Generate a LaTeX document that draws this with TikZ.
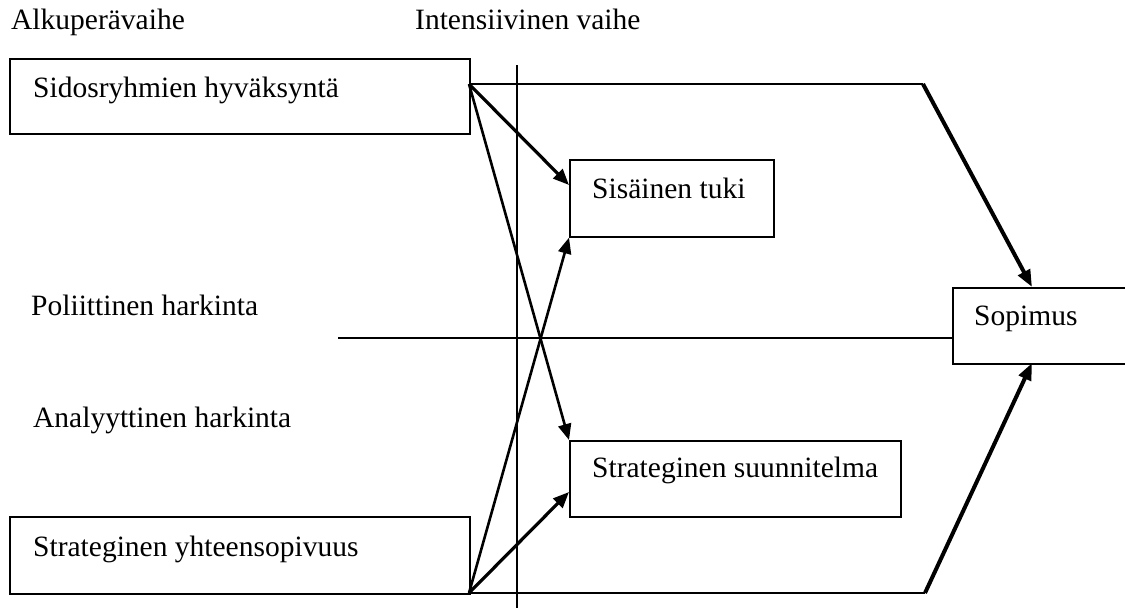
\documentclass[tikz,border=0pt]{standalone}
\usepackage{fontspec}
\setmainfont{Liberation Serif}
\usetikzlibrary{arrows.meta,calc}
\begin{document}
\begin{tikzpicture}[x=1pt,y=-1pt,
  box/.style={draw, line width=1.6pt, anchor=north west, inner sep=0pt},
  lbl/.style={anchor=base west, inner sep=0pt, font=\fontsize{29.5}{34}\selectfont},
  thinline/.style={line width=1.6pt},
  arrA/.style={line width=2.6pt, -{Triangle[length=16pt,width=13pt]}},
  arrB/.style={line width=3.2pt, -{Triangle[length=16pt,width=13pt]}},
  arrC/.style={line width=4pt, -{Triangle[length=17pt,width=13pt]}}]
\useasboundingbox (0,0) rectangle (1125,608);
\fill[white] (0,0) rectangle (1125,608);

% boxes
\node[box, minimum width=460pt, minimum height=75pt] (b1) at (9,58) {};
\node[box, minimum width=204pt, minimum height=77pt] (b2) at (569,159) {};
\node[box, minimum width=331pt, minimum height=76pt] (b3) at (569,440) {};
\node[box, minimum width=460pt, minimum height=77pt] (b4) at (9,516) {};
\node[box, minimum width=180pt, minimum height=76pt] (b5) at (952,287) {};

% texts
\node[lbl] (t0) at (11,29) {Alkuperävaihe};
\node[lbl] (t00) at (415,29) {Intensiivinen vaihe};
\node[lbl] (t1) at (33,97) {Sidosryhmien hyväksyntä};
\node[lbl] (t2) at (592,198) {Sisäinen tuki};
\node[lbl] (t3) at (592,477) {Strateginen suunnitelma};
\node[lbl] (t4) at (33,556) {Strateginen yhteensopivuus};
\node[lbl] (t5) at (974,325) {Sopimus};
\node[lbl] (tp) at (31,315) {Poliittinen harkinta};
\node[lbl] (ta) at (33,427) {Analyyttinen harkinta};

% coordinates
\coordinate (o1) at (469,84);
\coordinate (o4) at (469,593);
\coordinate (k1) at (923,84);
\coordinate (k4) at (925,593);
\coordinate (v0) at (517,65);
\coordinate (v1) at (517,610);
\coordinate (m0) at (338,338);
\coordinate (b2in) at (569,185);
\coordinate (b3in) at (569,492);
\coordinate (b5top) at (1032,287);
\coordinate (b5bot) at (1032,363);

% lines
\draw[thinline] (v0) -- (v1);
\draw[thinline] (m0) -- (m0 -| b5.west);
\draw[thinline] (o1) -- (k1);
\draw[thinline] (o4) -- (k4);

% arrows
\draw[arrB] (o1) -- (b2in);
\draw[arrA] (o1) -- (b3.north west);
\draw[arrA] (o4) -- (b2.south west);
\draw[arrB] (o4) -- (b3in);
\draw[arrC] (k1) -- (b5top);
\draw[arrC] (k4) -- (b5bot);
\end{tikzpicture}
\end{document}
